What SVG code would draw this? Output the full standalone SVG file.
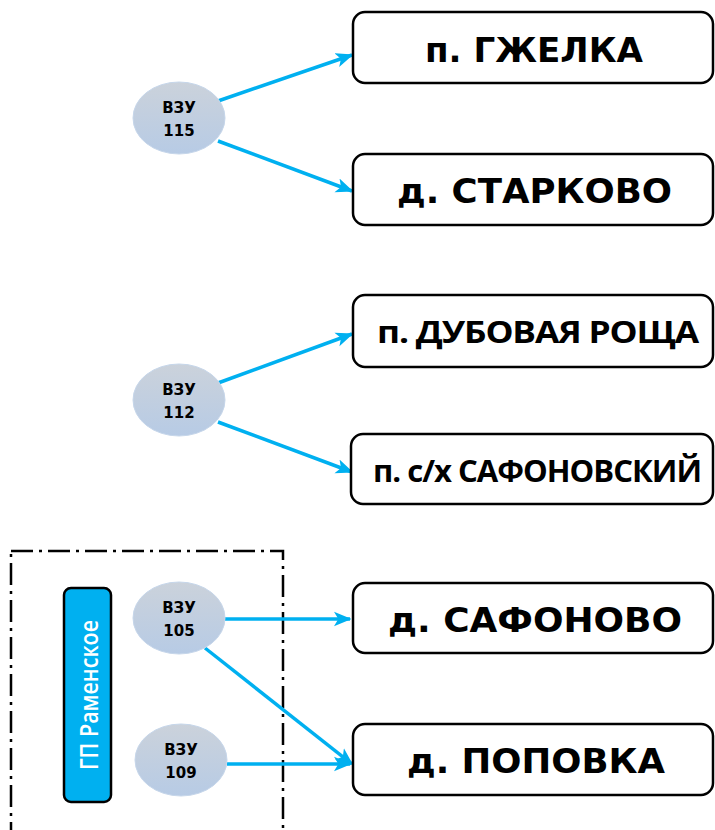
<svg xmlns="http://www.w3.org/2000/svg" width="715" height="830" viewBox="0 0 715 830">
<style>
.box{fill:#fff;stroke:#000;stroke-width:2.5}
.bt{font-family:"DejaVu Sans",sans-serif;font-weight:bold;font-size:33px;fill:#000;text-anchor:middle}
.bc{font-family:"Open Sans",sans-serif;font-weight:bold;font-size:31px;fill:#000;text-anchor:middle;letter-spacing:-1px}
.et{font-family:"DejaVu Sans",sans-serif;font-weight:bold;font-size:15px;fill:#000;text-anchor:middle}
.ell{fill:url(#eg);stroke:#C6D6EA;stroke-width:1}
.con{stroke:#00B0F0;stroke-width:3.5;fill:none;marker-end:url(#ah)}
</style>
<defs>
<linearGradient id="eg" x1="0" y1="0" x2="0" y2="1">
<stop offset="0" stop-color="#CBD2DB"/>
<stop offset="1" stop-color="#B7CBE5"/>
</linearGradient>
<marker id="ah" viewBox="0 0 12 10" refX="11" refY="5" markerWidth="5" markerHeight="4.5" markerUnits="strokeWidth" orient="auto">
<path d="M0,0 L12,5 L0,10 L3,5 Z" fill="#00B0F0"/>
</marker>
</defs>
<rect x="11" y="551" width="272" height="300" fill="none" stroke="#000" stroke-width="2.5" stroke-dasharray="22,6,3,6"/>
<g id="connectors">
<line class="con" x1="218" y1="101" x2="352" y2="55"/>
<line class="con" x1="218" y1="141" x2="352" y2="191"/>
<line class="con" x1="218" y1="383" x2="352" y2="334"/>
<line class="con" x1="218" y1="422" x2="352" y2="472"/>
<line class="con" x1="225" y1="619" x2="350" y2="619"/>
<line class="con" x1="205" y1="648" x2="352" y2="764"/>
<line class="con" x1="227" y1="764" x2="350" y2="764"/>
</g>
<g id="n1"><rect class="box" x="353" y="12" width="360" height="71" rx="12"/><text class="bt" x="534" y="62" textLength="218" lengthAdjust="spacingAndGlyphs">п. ГЖЕЛКА</text></g>
<g id="n2"><rect class="box" x="353" y="154" width="360" height="71" rx="12"/><text class="bt" x="534.5" y="203" textLength="275" lengthAdjust="spacingAndGlyphs">д. СТАРКОВО</text></g>
<g id="n3"><rect class="box" x="353" y="295" width="360" height="72" rx="12"/><text class="bc" x="537.5" y="343" textLength="321" lengthAdjust="spacingAndGlyphs">п. ДУБОВАЯ РОЩА</text></g>
<g id="n4"><rect class="box" x="351" y="434" width="362" height="70" rx="12"/><text class="bc" x="537" y="482" textLength="328" lengthAdjust="spacingAndGlyphs">п. с/х САФОНОВСКИЙ</text></g>
<g id="n5"><rect class="box" x="353" y="583" width="360" height="70" rx="12"/><text class="bt" x="535" y="632" textLength="294" lengthAdjust="spacingAndGlyphs">д. САФОНОВО</text></g>
<g id="n6"><rect class="box" x="353" y="724" width="360" height="71" rx="12"/><text class="bt" x="536" y="773" textLength="258" lengthAdjust="spacingAndGlyphs">д. ПОПОВКА</text></g>
<g id="e115"><ellipse class="ell" cx="179" cy="118" rx="46" ry="36"/><text class="et" x="179" y="113">ВЗУ</text><text class="et" x="179" y="136">115</text></g>
<g id="e112"><ellipse class="ell" cx="179" cy="400" rx="46" ry="36"/><text class="et" x="179" y="395">ВЗУ</text><text class="et" x="179" y="418">112</text></g>
<g id="e105"><ellipse class="ell" cx="179" cy="618" rx="46" ry="36"/><text class="et" x="179" y="613">ВЗУ</text><text class="et" x="179" y="636">105</text></g>
<g id="e109"><ellipse class="ell" cx="181" cy="760" rx="46" ry="36"/><text class="et" x="181" y="755">ВЗУ</text><text class="et" x="181" y="778">109</text></g>
<g id="gp"><rect x="64" y="588" width="47" height="214" rx="7" fill="#00B0F0" stroke="#000" stroke-width="2.5"/><text transform="translate(98,695) rotate(-90)" font-family="'Open Sans',sans-serif" font-weight="600" font-size="26" fill="#fff" text-anchor="middle" textLength="150" lengthAdjust="spacingAndGlyphs">ГП Раменское</text></g>
</svg>
